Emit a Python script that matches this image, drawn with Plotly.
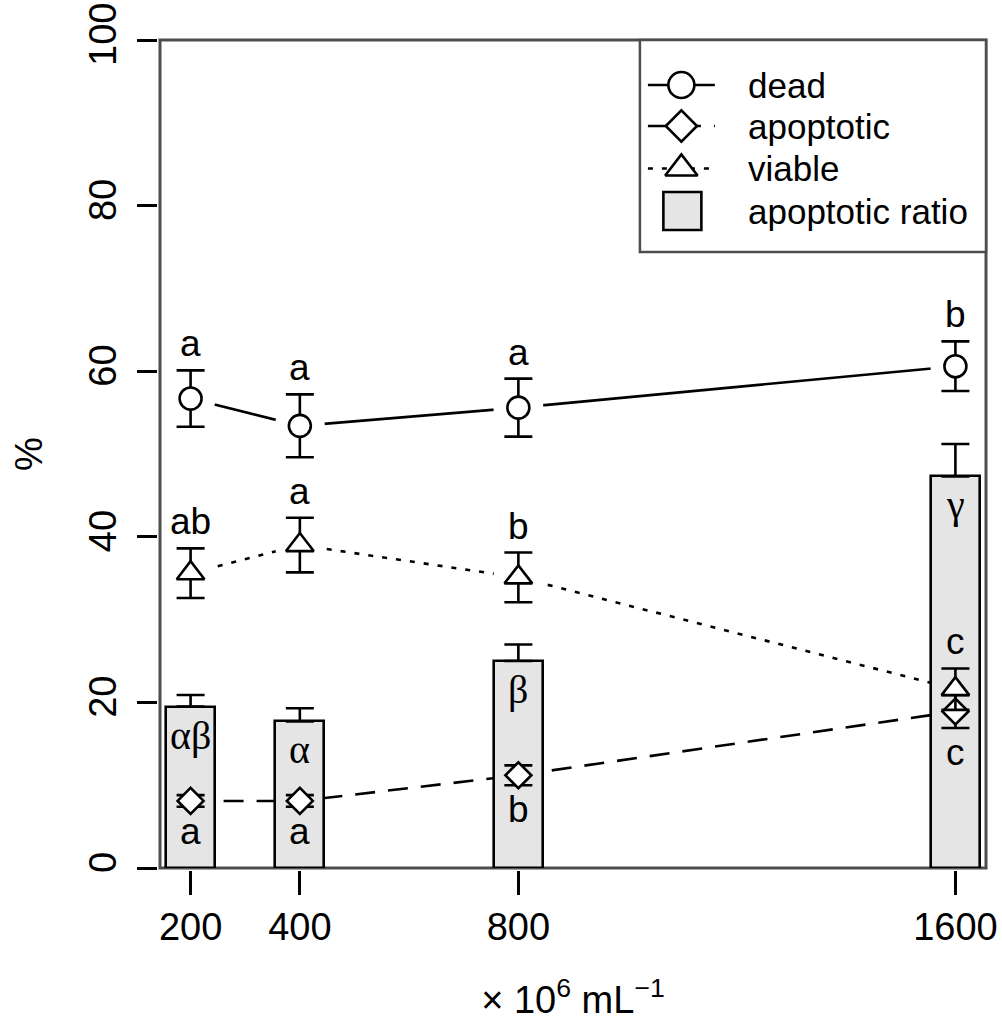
import plotly.graph_objects as go

# ---- data -------------------------------------------------------------
conc = [200, 400, 800, 1600]
tick_labels = ["200", "400", "800", "1600"]
y_ticks = [0, 20, 40, 60, 80, 100]

dead = [56.7, 53.4, 55.6, 60.6]
dead_se = [3.4, 3.8, 3.5, 3.0]
dead_letters = ["a", "a", "a", "b"]

viable = [35.6, 39.0, 35.1, 21.6]
viable_se = [3.0, 3.3, 3.0, 2.5]
viable_letters = ["ab", "a", "b", "c"]

apoptotic = [8.1, 8.1, 11.2, 18.9]
apoptotic_se = [0.7, 0.7, 1.2, 2.0]
apoptotic_letters = ["a", "a", "b", "c"]

ratio = [19.5, 17.7, 25.0, 47.3]
ratio_se = [1.4, 1.6, 2.0, 3.9]
ratio_letters = ["αβ", "α", "β", "γ"]

legend_names = ["dead", "apoptotic", "viable", "apoptotic ratio"]

# ---- styling ----------------------------------------------------------
FONT = "Liberation Sans, Arial, sans-serif"
SERIF = "Liberation Serif, Times New Roman, serif"
FS = 37
LW = 2.6
BAR_FILL = "#e5e5e5"
W, H = 1002, 1026
ML, MR, MT, MB = 159.5, 15.5, 40, 158
PW, PH = W - ML - MR, H - MT - MB


def fx(px):
    return (px - ML) / PW


def fy(py):
    return (H - MB - py) / PH


series = [
    (dead, dead_se, "circle", 22, "solid"),
    (apoptotic, apoptotic_se, "diamond", 20, "20px,13px"),
    (viable, viable_se, "triangle-up", 24, "5px,9px"),
]

fig = go.Figure()

# connecting lines (underneath the bars)
for vals, se, sym, size, dash in series:
    fig.add_trace(go.Scatter(
        x=conc, y=vals, mode="lines", showlegend=False, hoverinfo="skip",
        line=dict(color="black", width=LW, dash=dash), zorder=0))

# white gaps around the points (type="b" look)
for vals in (dead, viable):
    fig.add_trace(go.Scatter(
        x=conc, y=vals, mode="markers", showlegend=False, hoverinfo="skip",
        marker=dict(symbol="circle", size=50, color="white", line=dict(width=0)),
        zorder=1))

# apoptotic ratio bars
fig.add_trace(go.Bar(
    x=conc, y=ratio, width=90, showlegend=False,
    marker=dict(color=BAR_FILL, line=dict(color="black", width=LW)),
    error_y=dict(type="data", symmetric=False, array=ratio_se,
                 arrayminus=[0] * len(ratio_se), color="black",
                 thickness=LW, width=14),
    zorder=2))

# points with standard errors
for vals, se, sym, size, dash in series:
    fig.add_trace(go.Scatter(
        x=conc, y=vals, mode="markers", showlegend=False,
        marker=dict(symbol=sym, size=size, color="white",
                    line=dict(color="black", width=LW)),
        error_y=dict(type="data", array=se, color="black",
                     thickness=LW, width=14),
        zorder=3))

annotations = []
# significance letters above the dead / viable points
for vals, se, letters in ((dead, dead_se, dead_letters),
                          (viable, viable_se, viable_letters)):
    for xv, v, s, t in zip(conc, vals, se, letters):
        annotations.append(dict(x=xv, y=v + s, xref="x", yref="y", text=t,
                                showarrow=False, yanchor="bottom", yshift=4,
                                font=dict(family=FONT, size=FS, color="black")))
# letters below the apoptotic points
for xv, v, s, t in zip(conc, apoptotic, apoptotic_se, apoptotic_letters):
    annotations.append(dict(x=xv, y=v - s, xref="x", yref="y", text=t,
                            showarrow=False, yanchor="top", yshift=-2,
                            font=dict(family=FONT, size=FS, color="black")))
# greek letters inside the bars
for xv, v, t in zip(conc, ratio, ratio_letters):
    annotations.append(dict(x=xv, y=v, xref="x", yref="y", text=t,
                            showarrow=False, yanchor="top", yshift=-4,
                            font=dict(family=SERIF, size=FS + 3, color="black")))

# ---- legend (top-right box) -------------------------------------------
leg_y = [85, 126, 168.5, 211]
leg_line_x = [648, 715]
leg_mark_x = 681.5
for (vals, se, sym, size, dash), ly in zip(series, leg_y):
    fig.add_trace(go.Scatter(
        x=[fx(leg_line_x[0]), fx(leg_line_x[1])], y=[fy(ly), fy(ly)],
        xaxis="x2", yaxis="y2", mode="lines", showlegend=False, hoverinfo="skip",
        line=dict(color="black", width=LW, dash=dash)))
    fig.add_trace(go.Scatter(
        x=[fx(leg_mark_x)], y=[fy(ly)], xaxis="x2", yaxis="y2",
        mode="markers", showlegend=False, hoverinfo="skip",
        marker=dict(symbol=sym, size=size + 4, color="white",
                    line=dict(color="black", width=LW))))
fig.add_trace(go.Scatter(
    x=[fx(682.5)], y=[fy(leg_y[3])], xaxis="x2", yaxis="y2",
    mode="markers", showlegend=False, hoverinfo="skip",
    marker=dict(symbol="square", size=38, color=BAR_FILL,
                line=dict(color="black", width=LW))))
for name, ly in zip(legend_names, leg_y):
    annotations.append(dict(x=fx(746), y=fy(ly), xref="paper", yref="paper",
                            text=name, showarrow=False, xanchor="left",
                            yanchor="middle",
                            font=dict(family=FONT, size=35, color="black")))

shapes = [
    # plot frame
    dict(type="rect", xref="paper", yref="paper", x0=0, x1=1, y0=0, y1=1,
         line=dict(color="#4d4d4d", width=3), layer="below"),
    # legend frame
    dict(type="rect", xref="paper", yref="paper", x0=fx(640), x1=1,
         y0=fy(252), y1=1, fillcolor="white",
         line=dict(color="#4d4d4d", width=2.5), layer="below"),
]

fig.update_layout(
    template="none",
    width=W, height=H,
    margin=dict(l=ML, r=MR, t=MT, b=MB, pad=0),
    paper_bgcolor="white", plot_bgcolor="white",
    font=dict(family=FONT, size=FS, color="black"),
    showlegend=False,
    bargap=0,
    annotations=annotations,
    shapes=shapes,
    xaxis=dict(range=[144, 1656], tickvals=conc, ticktext=tick_labels,
               automargin=False,
               ticks="outside", ticklen=24, tickwidth=LW, tickcolor="black",
               showline=True, linecolor="black", linewidth=LW, mirror=False,
               showgrid=False, zeroline=False,
               tickfont=dict(family=FONT, size=38, color="black"),
               title=dict(text="× 10<sup>6</sup> mL<sup>−1</sup>",
                          font=dict(family=FONT, size=38, color="black"),
                          standoff=39)),
    yaxis=dict(range=[0, 100], tickvals=y_ticks,
               ticktext=[str(v) for v in y_ticks],
               automargin=False,
               ticks="outside", ticklen=20, tickwidth=LW, tickcolor="black",
               tickangle=-90, ticklabelstandoff=6,
               showline=True, linecolor="black", linewidth=LW, mirror=False,
               showgrid=False, zeroline=False,
               tickfont=dict(family=FONT, size=38, color="black"),
               title=dict(text="%", font=dict(family=FONT, size=38, color="black"),
                          standoff=28)),
    xaxis2=dict(overlaying="x", range=[0, 1], visible=False),
    yaxis2=dict(overlaying="y", range=[0, 1], visible=False),
)

fig.write_html("out.html")
